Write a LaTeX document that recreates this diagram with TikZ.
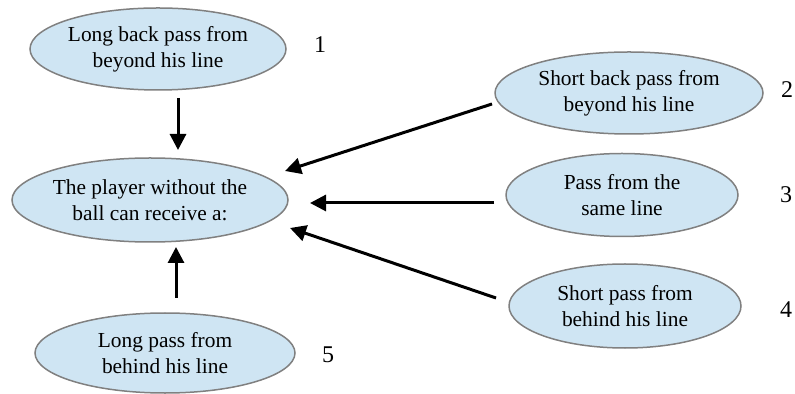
\documentclass[tikz,border=0pt]{standalone}
\usepackage{fontspec}
\setmainfont{Liberation Serif}
\usetikzlibrary{shapes.geometric,arrows.meta}
\definecolor{ellfill}{RGB}{207,229,243}
\definecolor{ellline}{RGB}{128,128,128}
\tikzset{
  ell/.style={ellipse, draw=ellline, line width=0.75pt, fill=ellfill, inner sep=0pt,
    align=center, font=\fontsize{10.7}{13}\selectfont},
  num/.style={font=\fontsize{12}{14}\selectfont, inner sep=0pt},
  arr/.style={line width=1.5pt, -{Triangle[length=8pt,width=8pt]}}
}
\begin{document}
\begin{tikzpicture}[x=0.5pt,y=-0.5pt]
\useasboundingbox (0,0) rectangle (795,394);
\node[ell, minimum width=128pt, minimum height=41pt] (e1) at (158,49) {Long back pass from\\beyond his line};
\node[ell, minimum width=134pt, minimum height=41pt] (e2) at (629,93) {Short back pass from\\beyond his line};
\node[ell, minimum width=116pt, minimum height=41.5pt] (e3) at (622,195) {Pass from the\\same line};
\node[ell, minimum width=138pt, minimum height=42pt] (c) at (150,200) {The player without the\\ball can receive a:};
\node[ell, minimum width=116pt, minimum height=42pt] (e4) at (625,306) {Short pass from\\behind his line};
\node[ell, minimum width=130pt, minimum height=40pt] (e5) at (165,353) {Long pass from\\behind his line};
\node[num] (n1) at (320,45) {1};
\node[num] (n2) at (787,90) {2};
\node[num] (n3) at (786,195) {3};
\node[num] (n4) at (786,310) {4};
\node[num] (n5) at (328,355) {5};
\coordinate (a1s) at (178,98);  \coordinate (a1e) at (178,150);
\coordinate (a2s) at (492,104); \coordinate (a2e) at (285,171);
\coordinate (a3s) at (494,203); \coordinate (a3e) at (310,203);
\coordinate (a4s) at (496,298); \coordinate (a4e) at (290,228);
\coordinate (a5s) at (176,298); \coordinate (a5e) at (176,247);
\draw[arr] (a1s) -- (a1e);
\draw[arr] (a2s) -- (a2e);
\draw[arr] (a3s) -- (a3e);
\draw[arr] (a4s) -- (a4e);
\draw[arr] (a5s) -- (a5e);
\end{tikzpicture}
\end{document}
